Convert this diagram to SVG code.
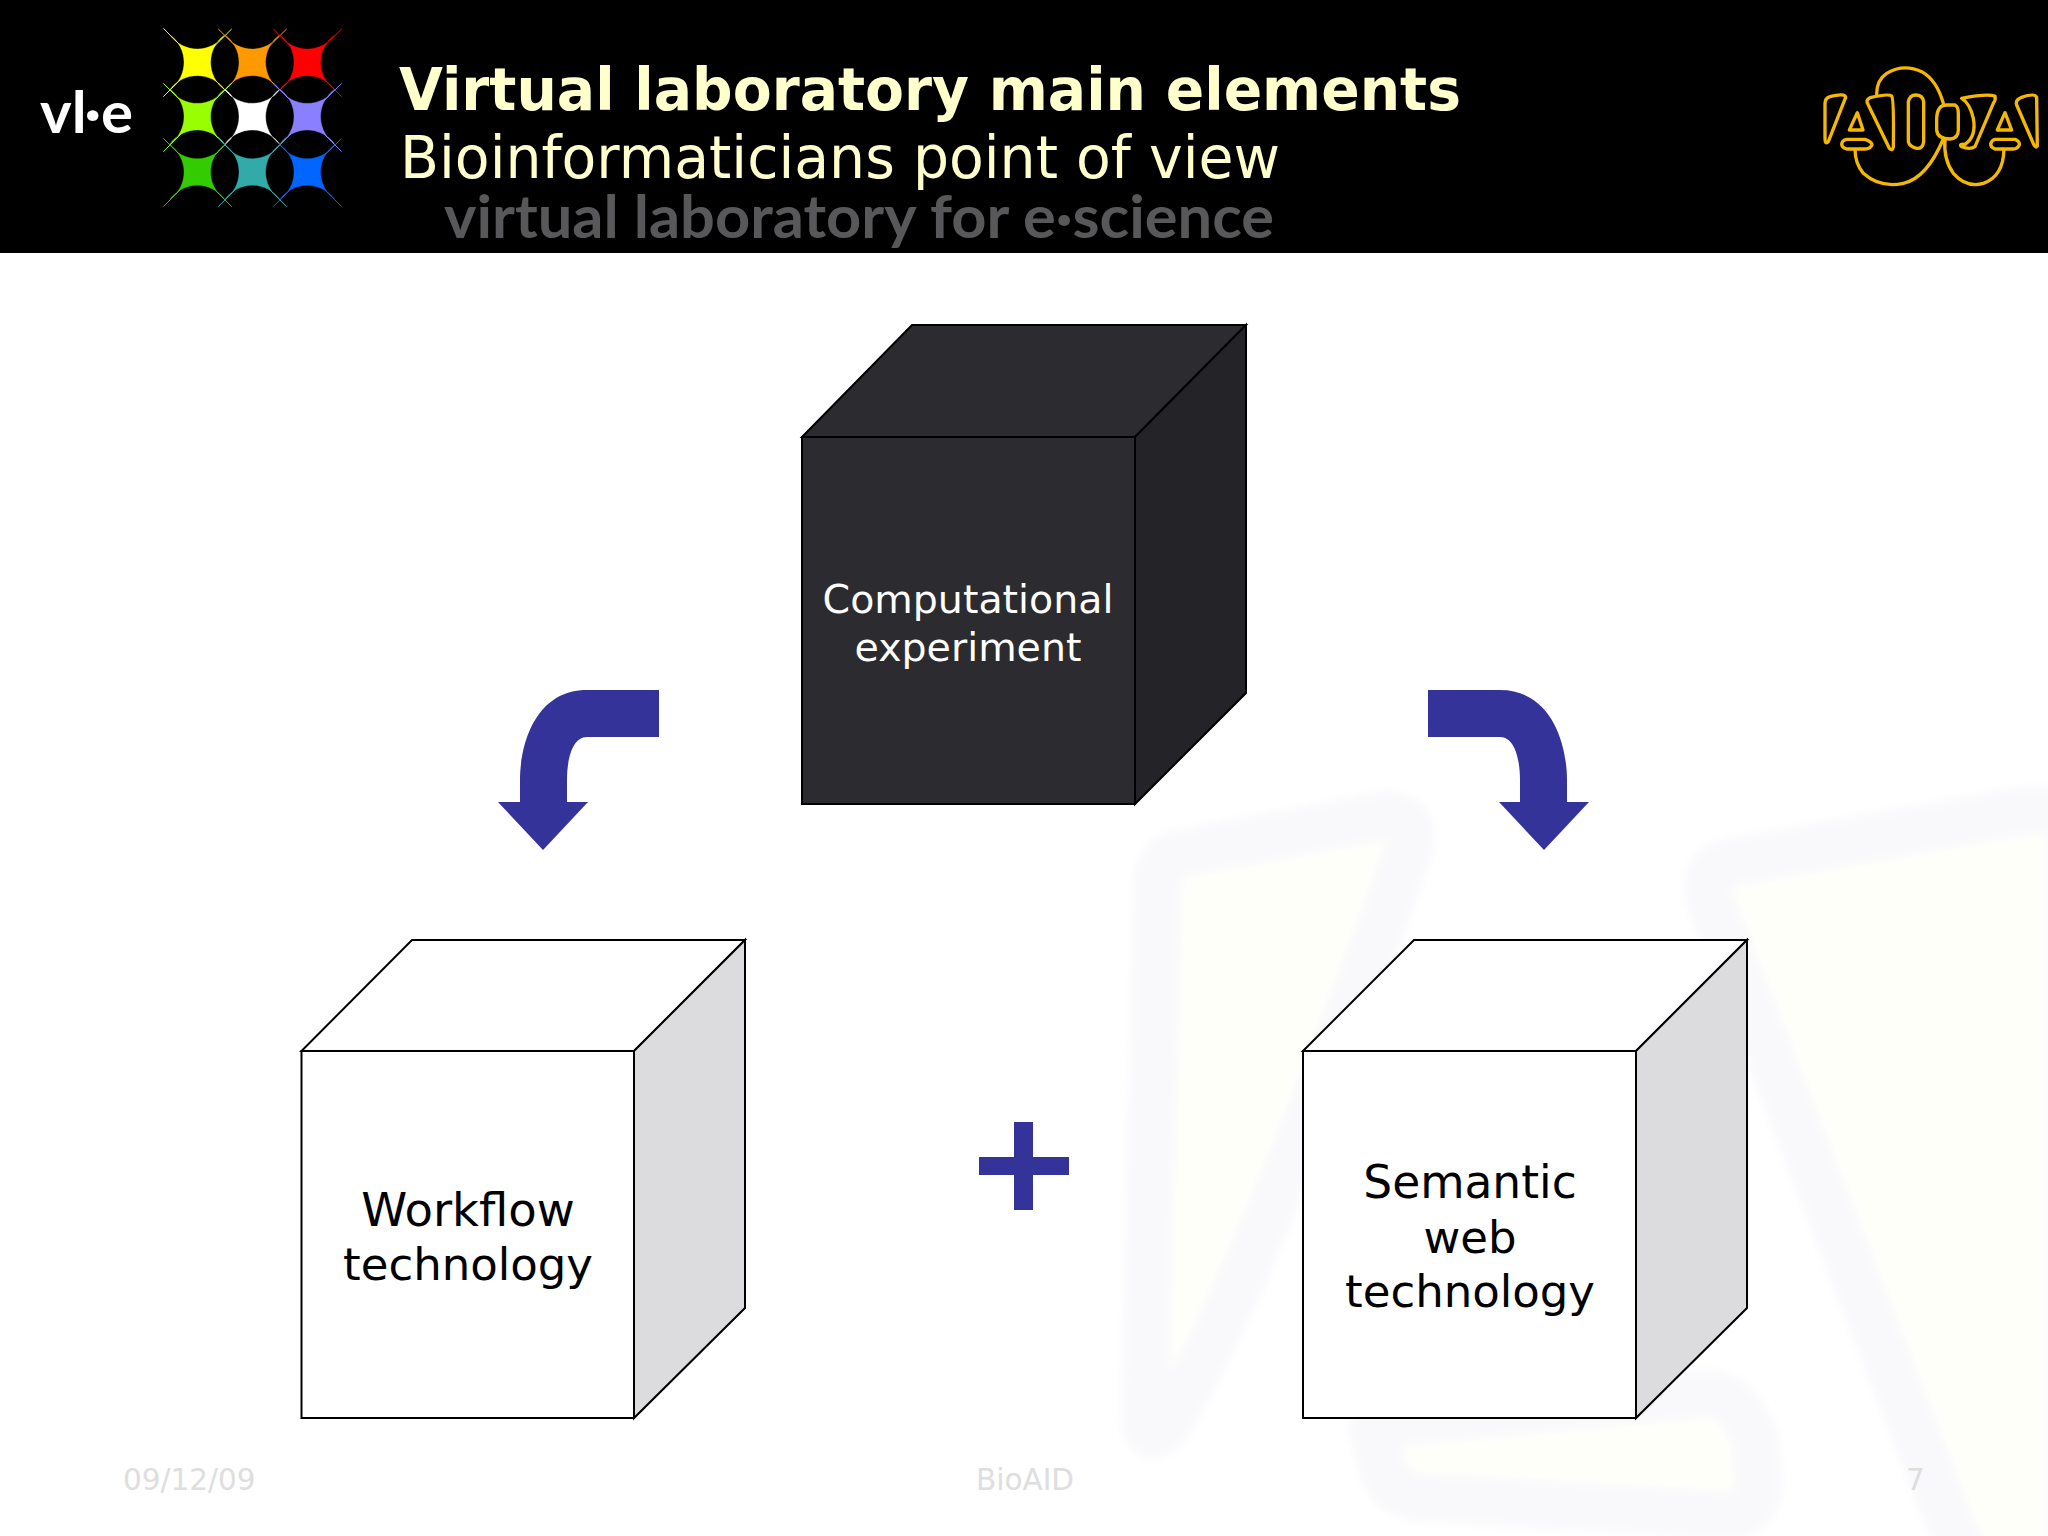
<svg xmlns="http://www.w3.org/2000/svg" xmlns:xlink="http://www.w3.org/1999/xlink" width="2048" height="1536" viewBox="0 0 2048 1536">
<defs>
<style>
.t{font-family:"DejaVu Sans","Liberation Sans",sans-serif}
.c{text-anchor:middle;font-size:45px;fill:#000}
.f{font-size:29.500px;fill:#dedede}
.e{stroke:#000;stroke-width:2;stroke-linejoin:miter}
.a{fill:#333399}
.wm{fill:#fffffa;stroke:#f9f9fc;stroke-width:48;stroke-linejoin:round}
.lg{fill:none;stroke:#f5b800;stroke-width:10;stroke-linejoin:round;stroke-linecap:round}
</style>
<filter id="soft" x="-5%" y="-5%" width="110%" height="110%"><feGaussianBlur stdDeviation="4"/></filter>
<g id="star"><path d="M-82-82A101 101 0 0 0 82-82A101 101 0 0 0 82 82A101 101 0 0 0-82 82A101 101 0 0 0-82-82Z"/></g>
<path id="arrow" d="M659 690H587C535 690 520 745 520 780V802H498L543 850L588 802H567V780C567 760 572 737 587 737H659Z"/>
</defs>
<rect width="2048" height="1536" fill="#fff"/>
<g id="watermark" filter="url(#soft)">
<path class="wm" d="M1175 855Q1160 858 1158 885L1145 1420Q1148 1450 1170 1420Q1250 1290 1405 860Q1422 815 1385 816Z"/>
<path class="wm" d="M1730 863Q1700 868 1712 905L1945 1510Q1965 1570 2000 1570L2070 1570V830Q2060 805 2020 812Z"/>
<path class="wm" d="M1372 1425L1385 1475Q1395 1495 1420 1497L1725 1515Q1760 1515 1758 1480L1755 1440Q1735 1385 1695 1395Z"/>
</g>
<g id="header">
<rect width="2048" height="253" fill="#000"/>
<text x="40" y="133" font-family="Lato,'Open Sans',sans-serif" font-size="58" font-weight="700" fill="#fff" textLength="93" lengthAdjust="spacingAndGlyphs">vl·e</text>
<g id="vle-logo" transform="scale(.3333)">
<g fill="#ffff00" stroke="#ffff00"><use xlink:href="#star" x="592" y="187"/><path d="M490 85L695 290M695 87L490 290" fill="none" stroke-width="3"/></g>
<g fill="#ff9900" stroke="#ff9900"><use xlink:href="#star" x="757" y="187"/><path d="M655 87L860 290M860 87L655 290" fill="none" stroke-width="3"/></g>
<g fill="#ff0000" stroke="#ff0000"><use xlink:href="#star" x="922" y="187"/><path d="M820 87L1025 290M1025 87L820 290" fill="none" stroke-width="3"/></g>
<g fill="#99ff00" stroke="#99ff00"><use xlink:href="#star" x="592" y="350"/><path d="M490 250L695 455M695 250L490 455" fill="none" stroke-width="3"/></g>
<g fill="#ffffff" stroke="#ffffff"><use xlink:href="#star" x="757" y="350"/></g>
<g fill="#8a80ff" stroke="#8a80ff"><use xlink:href="#star" x="922" y="350"/><path d="M820 250L1025 455M1025 250L820 455" fill="none" stroke-width="3"/></g>
<g fill="#33cc00" stroke="#33cc00"><use xlink:href="#star" x="592" y="516"/><path d="M490 415L695 620M695 415L490 620" fill="none" stroke-width="3"/></g>
<g fill="#33aaaa" stroke="#33aaaa"><use xlink:href="#star" x="757" y="516"/><path d="M655 415L860 620M860 415L655 620" fill="none" stroke-width="3"/></g>
<g fill="#0066ff" stroke="#0066ff"><use xlink:href="#star" x="922" y="516"/><path d="M820 415L1025 620M1025 415L820 620" fill="none" stroke-width="3"/></g>
</g>
<text class="t" x="399" y="110" font-size="58" font-weight="700" fill="#ffffcc" textLength="1062" lengthAdjust="spacingAndGlyphs">Virtual laboratory main elements</text>
<text class="t" x="400" y="178" font-size="58" fill="#ffffcc" textLength="880" lengthAdjust="spacingAndGlyphs">Bioinformaticians point of view</text>
<text x="444" y="238" font-family="Lato,'Open Sans',sans-serif" font-size="60" font-weight="700" fill="#58585a" textLength="830" lengthAdjust="spacingAndGlyphs">virtual laboratory for e·science</text>
<g id="aida-logo" transform="translate(1780 40) scale(.3333)" class="lg">
<path d="M150 170Q195 158 197 172L145 305Q135 315 135 295V190Q135 175 150 170Z"/>
<path d="M232 218L249 270H208Z"/>
<path d="M200 298H255Q276 305 276 315Q270 327 255 327H200Q185 322 185 312Q187 300 200 298Z"/>
<path d="M270 173Q325 160 335 168Q342 175 340 320Q338 335 328 325L265 195Q255 180 270 173Z"/>
<path d="M385 185Q390 165 407 165Q428 165 431 185V305Q428 327 410 325Q388 320 385 305Z"/>
<path d="M470 240Q470 195 500 195H525Q535 200 535 220V270Q535 295 510 297Q472 297 470 270Z"/>
<path d="M545 175Q620 160 645 168Q648 180 640 190L585 320Q570 330 545 320Q535 312 555 313Q590 290 580 235Q570 190 545 175Z"/>
<path d="M675 218L695 270H652Z"/>
<path d="M645 298H705Q720 305 718 315Q712 327 700 327H645Q632 322 632 312Q635 300 645 298Z"/>
<path d="M725 172Q765 158 770 172L772 318Q768 325 762 315L710 195Q705 180 725 172Z"/>
<path d="M290 162Q290 120 320 100Q370 70 425 95Q470 120 490 190"/>
<path d="M225 328Q225 370 250 400Q300 445 370 430Q440 415 490 297"/>
<path d="M495 297Q490 360 520 400Q560 445 610 430Q670 410 672 328"/>
</g>
</g>
<g id="connectors">
<use xlink:href="#arrow" class="a"/>
<use xlink:href="#arrow" class="a" transform="translate(2087 0) scale(-1 1)"/>
<path id="plus" class="a" d="M1014 1122H1033V1157H1069V1175H1033V1210H1014V1175H979V1157H1014Z"/>
</g>
<g id="experiment">
<path class="e" fill="#2c2b2f" d="M802 437L912 325H1246L1135 437Z"/>
<path class="e" fill="#242327" d="M1135 437L1246 325V693L1135 804Z"/>
<rect class="e" x="802" y="437" width="333" height="367" fill="#2c2b2f"/>
<text class="t c" x="968" y="613" style="font-size:39.500px;fill:#fff">Computational</text>
<text class="t c" x="968" y="661" style="font-size:39.500px;fill:#fff">experiment</text>
</g>
<g id="workflow">
<path class="e" fill="#fff" d="M301.500 1051L412 940H745L634 1051Z"/>
<path class="e" fill="#dcdbde" d="M634 1051L745 940V1308L634 1418Z"/>
<rect class="e" x="301.500" y="1051" width="332.500" height="367" fill="#fff"/>
<text class="t c" x="468" y="1226" style="font-size:46.500px">Workflow</text>
<text class="t c" x="468" y="1280">technology</text>
</g>
<g id="semantic">
<path class="e" fill="#fff" d="M1303 1051L1414 940H1747L1636 1051Z"/>
<path class="e" fill="#dcdbde" d="M1636 1051L1747 940V1308L1636 1418Z"/>
<rect class="e" x="1303" y="1051" width="333" height="367" fill="#fff"/>
<text class="t c" x="1470" y="1198" style="font-size:45.500px">Semantic</text>
<text class="t c" x="1470" y="1253">web</text>
<text class="t c" x="1470" y="1307">technology</text>
</g>
<g id="footer">
<text class="t f" x="123" y="1490">09/12/09</text>
<text class="t f" x="976" y="1490">BioAID</text>
<text class="t f" x="1906" y="1490">7</text>
</g>
</svg>
